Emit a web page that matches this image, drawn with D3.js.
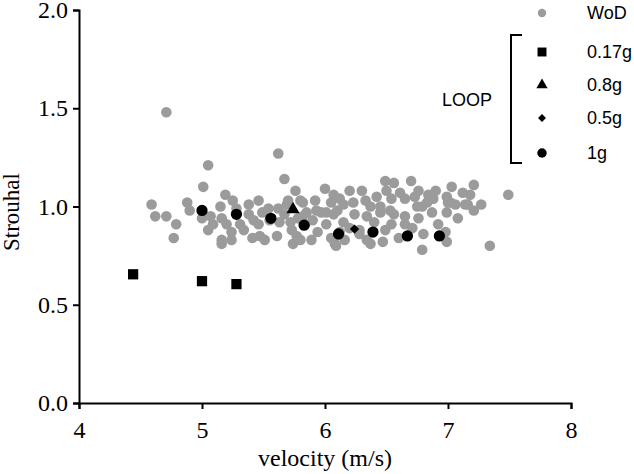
<!DOCTYPE html>
<html>
<head>
<meta charset="utf-8">
<script src="https://cdn.jsdelivr.net/npm/d3@7"></script>
<style>
  body { margin: 0; background: #fff; }
  svg { display: block; }
</style>
</head>
<body>
<svg id="chart" width="634" height="474"></svg>
<script>
// WoD cloud: [velocity, strouhal]
const wodPoints = [
  [4.71,1.48],[5.62,1.27],[5.05,1.21],[5.67,1.14],[5.01,1.10],[5.76,1.08],[5.19,1.06],
  [5.46,1.03],[5.25,1.03],[4.88,1.02],[4.59,1.01],[5.38,1.01],[5.15,1.00],[5.70,1.03],
  [5.92,1.03],[4.90,0.98],[4.62,0.95],[4.71,0.95],[4.79,0.91],[4.77,0.84],[5.05,0.88],
  [5.16,0.83],[5.16,0.81],[5.24,0.83],[5.24,0.87],[5.31,0.91],[5.09,0.91],[5.07,0.95],
  [5.00,0.94],[5.16,0.94],[5.20,0.91],[5.38,0.96],[5.42,0.93],[5.46,0.91],[5.47,0.85],
  [5.51,0.83],[5.54,0.99],[5.62,0.99],[5.63,0.92],[5.61,0.85],[5.69,1.01],[5.80,1.03],
  [5.85,0.97],[5.78,0.94],[5.73,0.88],[5.77,0.85],[5.74,0.81],[5.89,0.83],[5.90,0.93],
  [5.97,0.97],[6.00,1.09],[6.01,0.91],[6.05,1.02],[6.07,0.96],[6.08,0.81],[5.80,0.83],
  [5.82,0.95],[5.93,0.98],[5.82,1.02],[6.49,1.13],[6.56,1.12],[6.70,1.13],[7.03,1.10],
  [7.21,1.11],[7.49,1.06],[6.07,1.06],[6.12,1.04],[6.20,1.08],[6.30,1.08],[6.23,1.02],
  [6.33,1.03],[6.42,1.05],[6.50,1.08],[6.54,1.04],[6.61,1.07],[6.65,1.04],[6.73,1.05],
  [6.84,1.06],[6.88,1.04],[6.99,1.05],[7.00,1.02],[7.06,1.01],[7.12,1.07],[7.16,1.01],
  [7.21,0.98],[7.27,1.01],[6.99,0.97],[7.08,0.94],[7.34,0.80],[6.79,0.78],[6.80,0.86],
  [6.99,0.82],[6.60,0.84],[6.47,0.82],[6.37,0.81],[6.34,0.83],[6.28,0.86],[6.09,0.80],
  [6.05,0.84],[6.34,0.95],[6.45,0.97],[6.56,0.96],[6.54,0.91],[6.65,0.95],[6.65,0.91],
  [6.15,0.92],[6.20,0.89],[6.28,0.88],[6.01,0.97],[6.10,0.98],[6.45,1.00],[6.75,1.00],
  [6.83,1.02],[6.37,1.00],[6.53,0.98],[6.15,1.01],[7.18,1.06],[7.02,1.02],[7.14,1.01],
  [6.98,0.87],[6.76,1.08],[6.90,1.08],[6.79,1.00],[5.28,0.99],[5.49,0.97],[5.55,0.93],
  [5.34,0.88],[5.41,0.84],[5.67,0.96],[5.72,0.92],[5.84,0.91],[5.94,0.87],[6.12,0.87],
  [6.16,0.83],[6.24,0.96],[6.40,0.92],[6.49,0.88],[6.71,0.89],[6.76,0.94],[6.87,0.97],
  [6.92,0.91]
]

// LOOP series
const loop017 = [[4.44,0.655],[5.00,0.62],[5.28,0.605]]
const loop08 = [[5.74,0.985]]
const loop05 = [[6.24,0.885]]
const loop1 = [[5.00,0.98],[5.28,0.96],[5.56,0.94],[5.83,0.905],[6.11,0.86],[6.39,0.87],[6.67,0.85],[6.93,0.85]]

const xTicks = [4,5,6,7,8]
const yTicks = [0,0.5,1,1.5,2]

const legendItems = [
  {label: "WoD", sym: "wod"},
  {label: "0.17g", sym: "square"},
  {label: "0.8g", sym: "triangle"},
  {label: "0.5g", sym: "diamond"},
  {label: "1g", sym: "circle"}
]

const svg = d3.select('#chart')
const x = d3.scaleLinear().domain([4,8]).range([79,571])
const y = d3.scaleLinear().domain([0,2]).range([403,10])

const serif = "'Liberation Serif', 'Times New Roman', serif"
const sans = "'Liberation Sans', Arial, sans-serif"

// points
svg.append('g')
  .selectAll('circle')
  .data(wodPoints)
  .join('circle')
  .attr('cx', d => x(d[0]))
  .attr('cy', d => y(d[1]))
  .attr('r', 5.3)
  .attr('fill', '#9b9b9b')

const symbols = {
  square: d3.symbol().type(d3.symbolSquare).size(105),
  triangle: d3.symbol().type(d3.symbolTriangle).size(75),
  diamond: d3.symbol().type(d3.symbolDiamond2).size(55),
  circle: d3.symbol().type(d3.symbolCircle).size(100)
}

function drawSeries(data, sym) {
  svg.append('g')
    .selectAll('path')
    .data(data)
    .join('path')
    .attr('transform', d => `translate(${x(d[0])},${y(d[1])})`)
    .attr('d', symbols[sym])
    .attr('fill', '#000')
}
drawSeries(loop017, 'square')
drawSeries(loop08, 'triangle')
drawSeries(loop05, 'diamond')
drawSeries(loop1, 'circle')

// axes
const xAxis = svg.append('g')
  .attr('transform', 'translate(0,403)')
  .call(d3.axisBottom(x).tickValues(xTicks).tickFormat(d3.format('d')).tickSizeOuter(0).tickSize(6).tickPadding(12))
const yAxis = svg.append('g')
  .attr('transform', 'translate(79,0)')
  .call(d3.axisLeft(y).tickValues(yTicks).tickFormat(d3.format('.1f')).tickSizeOuter(0).tickSize(6).tickPadding(5))

for (const ax of [xAxis, yAxis]) {
  ax.select('.domain').attr('stroke', '#000').attr('stroke-width', 2)
  ax.selectAll('.tick line').attr('stroke', '#000').attr('stroke-width', 2)
  ax.selectAll('.tick text')
    .attr('fill', '#000')
    .style('font-family', serif)
    .style('font-size', '24px')
}

svg.append('text')
  .attr('x', 325).attr('y', 466)
  .attr('text-anchor', 'middle')
  .style('font-family', serif).style('font-size', '24px')
  .text('velocity (m/s)')

svg.append('text')
  .attr('transform', 'translate(19,212) rotate(-90)')
  .attr('text-anchor', 'middle')
  .style('font-family', serif).style('font-size', '23px')
  .text('Strouhal')

// legend
const legendY = [13, 52, 85, 118, 153]
const small = {
  square: d3.symbol().type(d3.symbolSquare).size(80),
  triangle: d3.symbol().type(d3.symbolTriangle).size(55),
  diamond: d3.symbol().type(d3.symbolDiamond2).size(40),
  circle: d3.symbol().type(d3.symbolCircle).size(70)
}
const legend = svg.append('g')
legendItems.forEach((item, i) => {
  const g = legend.append('g').attr('transform', `translate(542,${legendY[i]})`)
  if (item.sym == 'wod') {
    g.append('circle').attr('r', 4.2).attr('fill', '#9b9b9b')
  } else {
    g.append('path').attr('d', small[item.sym]).attr('fill', '#000')
  }
  g.append('text')
    .attr('x', 45).attr('dy', '0.35em')
    .style('font-family', sans).style('font-size', '18px')
    .text(item.label)
})

legend.append('path')
  .attr('d', 'M522,35H511V163H522')
  .attr('fill', 'none')
  .attr('stroke', '#000')
  .attr('stroke-width', 2)

legend.append('text')
  .attr('x', 442).attr('y', 100).attr('dy', '0.35em')
  .style('font-family', sans).style('font-size', '18px')
  .text('LOOP')
</script>
</body>
</html>
